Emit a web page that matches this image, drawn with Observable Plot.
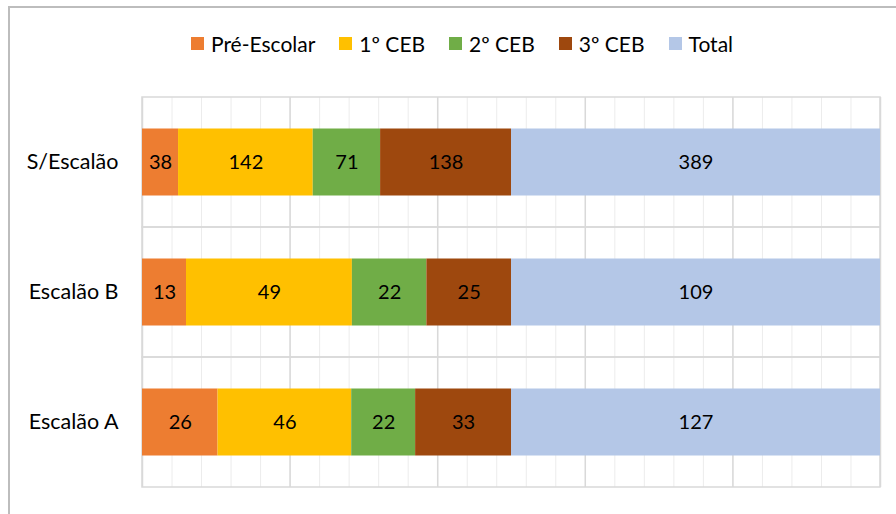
<!DOCTYPE html>
<html>
<head>
<meta charset="utf-8">
<script src="https://cdn.jsdelivr.net/npm/d3@7"></script>
<script src="https://cdn.jsdelivr.net/npm/@observablehq/plot@0.6"></script>
<style>
  html, body { margin: 0; padding: 0; background: #fff; }
  #wrap { position: relative; width: 896px; height: 514px; overflow: hidden; font-family: Lato, "Open Sans", sans-serif; }
  #box { position: absolute; left: 8px; top: 6px; width: 960px; height: 560px; border: 2px solid #bdbdbd; box-sizing: border-box; }
  #legend { position: absolute; left: 191px; top: 31px; display: flex; align-items: center; font-size: 21px; color: #000; white-space: nowrap; }
  .item { display: flex; align-items: center; margin-right: 24px; }
  .sw { width: 13px; height: 13px; margin-right: 7px; }
  #chart { position: absolute; left: 0; top: 0; }
</style>
</head>
<body>
<div id="wrap">
  <div id="box"></div>
  <div id="legend"></div>
  <div id="chart"></div>
</div>
<script>
const categories = ["S/Escalão", "Escalão B", "Escalão A"];
const seriesNames = ["Pré-Escolar", "1º CEB", "2º CEB", "3º CEB", "Total"];
const preEscolar = [38, 13, 26];
const ceb1 = [142, 49, 46];
const ceb2 = [71, 22, 22];
const ceb3 = [138, 25, 33];
const total = [389, 109, 127];
const colors = ["#ED7D31", "#FFC000", "#70AD47", "#9E480E", "#B4C7E7"];

const seriesValues = [preEscolar, ceb1, ceb2, ceb3, total];
const data = [];
categories.forEach((c, i) => {
  seriesNames.forEach((s, j) => data.push({category: c, series: s, value: seriesValues[j][i]}));
});

const minorTicks = d3.range(0, 26).map(i => i * 0.04);
const majorTicks = d3.range(0, 6).map(i => i * 0.2);

const chart = Plot.plot({
  width: 896,
  height: 514,
  marginLeft: 142,
  marginRight: 16,
  marginTop: 97,
  marginBottom: 27,
  style: {fontFamily: "Lato, 'Open Sans', sans-serif", fontSize: "20px", color: "#000", background: "transparent", overflow: "visible"},
  x: {domain: [0, 1], axis: null},
  y: {domain: categories, padding: 0, label: null},
  color: {domain: seriesNames, range: colors},
  marks: [
    Plot.ruleX(minorTicks, {x: d => d, stroke: "#ececec", strokeWidth: 1}),
    Plot.ruleX(majorTicks, {x: d => d, stroke: "#d9d9d9", strokeWidth: 1.5}),
    Plot.barX(categories, {x1: 0, x2: 1, y: d => d, fill: "none", stroke: "#d9d9d9", strokeWidth: 1.5}),
    Plot.barX(data, Plot.stackX({x: "value", y: "category", z: "series", fill: "series", order: seriesNames, offset: "normalize", insetTop: 31.5, insetBottom: 31.5})),
    Plot.text(data, Plot.stackX({x: "value", y: "category", z: "series", text: d => String(d.value), order: seriesNames, offset: "normalize", fill: "#000", fontSize: 20})),
    Plot.axisY({tickSize: 0, tickPadding: 24, fontSize: 21.5, label: null})
  ]
});
document.getElementById("chart").appendChild(chart);

const legend = document.getElementById("legend");
seriesNames.forEach((s, j) => {
  const it = document.createElement("div");
  it.className = "item";
  const sw = document.createElement("div");
  sw.className = "sw";
  sw.style.background = colors[j];
  const t = document.createElement("span");
  t.textContent = s;
  it.appendChild(sw);
  it.appendChild(t);
  legend.appendChild(it);
});
</script>
</body>
</html>
